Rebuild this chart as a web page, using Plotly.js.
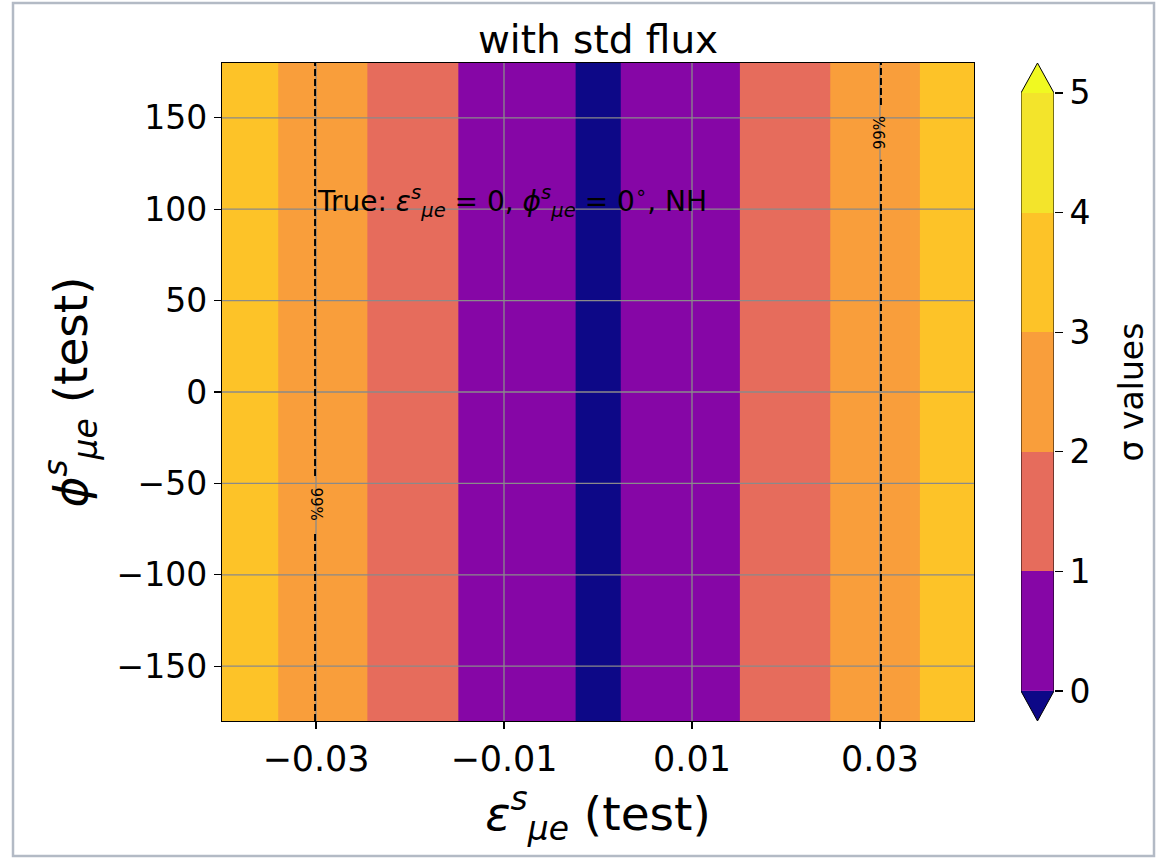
<!DOCTYPE html>
<html>
<head>
<meta charset="utf-8">
<script src="https://cdn.plot.ly/plotly-3.0.1.min.js"></script>
<style>
  html, body { margin: 0; padding: 0; background: #ffffff; }
  #chart { width: 1160px; height: 858px; }
</style>
</head>
<body>
<div id="chart"></div>
<script>
// Test grid: epsilon_mu_e (x) and phi_mu_e (y, degrees)
const epsTest = [-0.040, -0.035, -0.030, -0.025, -0.020, -0.015, -0.010, -0.005, 0.000,
                 0.005, 0.010, 0.015, 0.020, 0.025, 0.030, 0.035, 0.040];
const phiTest = [-180, -120, -60, 0, 60, 120, 180];

// Significance (sigma) along epsilon; independent of phi for this scan
const sigmaVsEps = [3.62, 3.11, 2.55, 2.04, 1.61, 1.01, 0.66, 0.33, -0.30,
                    0.32, 0.66, 0.99, 1.52, 2.03, 2.55, 3.08, 3.60];

// Contour levels and their fill colours
const sigmaLevels = [0, 1, 2, 3, 4, 5];
const bandColors = ['#8606a6', '#e66c5c', '#f99e3b', '#fdc328', '#f3e42b'];
const underColor = '#0d0887';
const overColor = '#f0f921';

// 99% C.L. contour positions and where their labels sit
const cl99Eps = [-0.0301, 0.0301];
const cl99LabelPhi = [-61, 142];
const cl99LabelAngle = [90, -90];
const cl99Text = '99%';

// Tick values
const xTicks = [-0.03, -0.01, 0.01, 0.03];
const yTicks = [-150, -100, -50, 0, 50, 100, 150];

const FONT = 'DejaVu Sans, Liberation Sans, sans-serif';

// Step colour scale: under | 5 bands | over, spanning zmin..zmax
const zmin = sigmaLevels[0] - 1;
const zmax = sigmaLevels[sigmaLevels.length - 1] + 1;
const stepColors = [underColor].concat(bandColors, [overColor]);
const nSteps = stepColors.length;
const colorscale = [];
stepColors.forEach((c, i) => {
  colorscale.push([i / nSteps, c]);
  colorscale.push([(i + 1) / nSteps, c]);
});

const zGrid = phiTest.map(() => sigmaVsEps.slice());

const traces = [];

// Filled significance contours
traces.push({
  type: 'contour',
  x: epsTest,
  y: phiTest,
  z: zGrid,
  xaxis: 'x', yaxis: 'y',
  autocontour: false,
  contours: {
    start: sigmaLevels[0],
    end: sigmaLevels[sigmaLevels.length - 1],
    size: 1,
    coloring: 'fill',
    showlines: false
  },
  line: { width: 0, smoothing: 0 },
  colorscale: colorscale,
  zmin: zmin,
  zmax: zmax,
  showscale: false,
  hoverinfo: 'skip'
});

// Colour bar built from the same levels on its own small axes
const bandMid = sigmaLevels.slice(0, -1).map((l, i) => [(l + sigmaLevels[i + 1]) / 2]);
traces.push({
  type: 'heatmap',
  x: [0, 1],
  y: sigmaLevels,
  z: bandMid,
  xaxis: 'x2', yaxis: 'y2',
  colorscale: colorscale,
  zmin: zmin,
  zmax: zmax,
  showscale: false,
  hoverinfo: 'skip'
});
const lo = sigmaLevels[0];
const hi = sigmaLevels[sigmaLevels.length - 1];
const ext = 0.25;
traces.push({
  type: 'scatter', mode: 'lines', fill: 'toself',
  x: [0, 0.5, 1, 0], y: [hi, hi + ext, hi, hi],
  xaxis: 'x2', yaxis: 'y2',
  fillcolor: overColor, line: { width: 0 },
  hoverinfo: 'skip', showlegend: false
});
traces.push({
  type: 'scatter', mode: 'lines', fill: 'toself',
  x: [0, 0.5, 1, 0], y: [lo, lo - ext, lo, lo],
  xaxis: 'x2', yaxis: 'y2',
  fillcolor: underColor, line: { width: 0 },
  hoverinfo: 'skip', showlegend: false
});
traces.push({
  type: 'scatter', mode: 'lines',
  x: [0, 0, 0.5, 1, 1, 0.5, 0], y: [lo, hi, hi + ext, hi, lo, lo - ext, lo],
  xaxis: 'x2', yaxis: 'y2',
  line: { color: '#000000', width: 1 },
  hoverinfo: 'skip', showlegend: false
});

// Grid lines drawn above the filled contours
const gridColor = '#8a8a8a';
const shapes = [];
xTicks.forEach(t => shapes.push({
  type: 'line', xref: 'x', yref: 'paper', x0: t, x1: t, y0: 0, y1: 1,
  line: { color: gridColor, width: 1.3 }, layer: 'above'
}));
yTicks.forEach(t => shapes.push({
  type: 'line', xref: 'paper', yref: 'y', x0: 0, x1: 0.90385, y0: t, y1: t,
  line: { color: gridColor, width: 1.3 }, layer: 'above'
}));

// 99% C.L. dashed contours on top of the grid, broken where the label sits
const gapPhi = 15;
cl99Eps.forEach((e, i) => {
  const p = cl99LabelPhi[i];
  [[-180, p - gapPhi], [p + gapPhi, 180]].forEach(seg => shapes.push({
    type: 'line', xref: 'x', yref: 'y', x0: e, x1: e, y0: seg[0], y1: seg[1],
    line: { color: '#000000', width: 2, dash: '7px,3px' }, layer: 'above'
  }));
});

// Window frame
shapes.push({
  type: 'rect', xref: 'paper', yref: 'paper',
  x0: -0.2512, x1: 1.1202, y0: -0.2052, y1: 1.0912,
  line: { color: '#b3bac5', width: 2.5 }, fillcolor: 'rgba(0,0,0,0)', layer: 'below'
});

const annotations = [];
cl99Eps.forEach((e, i) => annotations.push({
  x: e, y: cl99LabelPhi[i], xref: 'x', yref: 'y',
  text: cl99Text, showarrow: false, textangle: cl99LabelAngle[i],
  font: { family: FONT, size: 15, color: '#000000' },
  xanchor: 'center', yanchor: 'middle'
}));
annotations.push({
  x: -0.0301, y: 104, xref: 'x', yref: 'y',
  text: 'True: <i>ε</i><sup><i>s</i></sup><sub><i>μe</i></sub> = 0, <i>ϕ</i><sup><i>s</i></sup><sub><i>μe</i></sub> = 0<sup>∘</sup>, NH',
  showarrow: false, xanchor: 'left', yanchor: 'middle',
  font: { family: FONT, size: 28, color: '#000000' }
});

const layout = {
  width: 1160,
  height: 858,
  paper_bgcolor: '#ffffff',
  plot_bgcolor: '#ffffff',
  margin: { l: 222, r: 106, t: 63, b: 137 },
  showlegend: false,
  font: { family: FONT, color: '#000000' },
  title: {
    text: 'with std flux',
    font: { family: FONT, size: 39, color: '#000000' },
    x: 0.452, xref: 'paper', xanchor: 'center',
    y: 1 - 39 / 858, yref: 'container', yanchor: 'middle'
  },
  xaxis: {
    domain: [0, 0.90385],
    range: [-0.04, 0.04],
    tickvals: xTicks,
    tickformat: '.2f',
    ticks: 'outside', ticklen: 7, tickwidth: 1.2, tickcolor: '#000000',
    tickfont: { family: FONT, size: 35, color: '#000000' },
    showgrid: false, zeroline: false,
    showline: true, mirror: true, linecolor: '#000000', linewidth: 1.2,
    layer: 'above traces',
    title: {
      text: '<i>ε</i><sup><i>s</i></sup><sub><i>μe</i></sub> (test)',
      font: { family: FONT, size: 47, color: '#000000' },
      standoff: 6
    },
    anchor: 'y'
  },
  yaxis: {
    domain: [0, 1],
    range: [-180, 180],
    tickvals: yTicks,
    ticks: 'outside', ticklen: 7, tickwidth: 1.2, tickcolor: '#000000',
    tickfont: { family: FONT, size: 33, color: '#000000' },
    showgrid: false, zeroline: false,
    showline: true, mirror: true, linecolor: '#000000', linewidth: 1.2,
    layer: 'above traces',
    title: {
      text: '<i>ϕ</i><sup><i>s</i></sup><sub><i>μe</i></sub> (test)',
      font: { family: FONT, size: 47, color: '#000000' },
      standoff: 14
    },
    anchor: 'x'
  },
  xaxis2: {
    domain: [0.9603, 1],
    range: [0, 1],
    showticklabels: false, ticks: '', showgrid: false, zeroline: false, showline: false,
    anchor: 'y2'
  },
  yaxis2: {
    domain: [0, 1],
    range: [lo - ext, hi + ext],
    anchor: 'x2',
    side: 'right',
    tickvals: sigmaLevels,
    ticks: 'outside', ticklen: 8, tickwidth: 1.2, tickcolor: '#000000',
    tickfont: { family: FONT, size: 33, color: '#000000' },
    showgrid: false, zeroline: false, showline: false,
    title: {
      text: 'σ values',
      font: { family: FONT, size: 33, color: '#000000' },
      standoff: 30
    }
  },
  shapes: shapes,
  annotations: annotations
};

Plotly.newPlot('chart', traces, layout, { displayModeBar: false, staticPlot: true });
</script>
</body>
</html>
